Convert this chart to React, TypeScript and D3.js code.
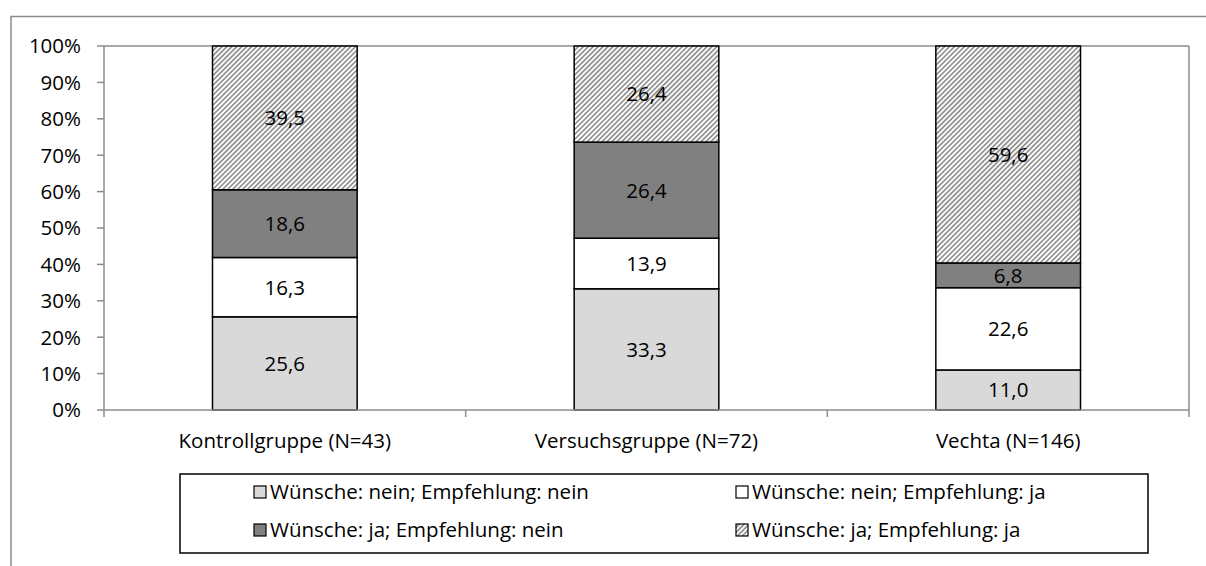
import React from "react";
import * as d3 from "d3";

const categories = ["Kontrollgruppe (N=43)", "Versuchsgruppe (N=72)", "Vechta (N=146)"];
const seriesNames = [
  "Wünsche: nein; Empfehlung: nein",
  "Wünsche: nein; Empfehlung: ja",
  "Wünsche: ja; Empfehlung: nein",
  "Wünsche: ja; Empfehlung: ja",
];
const neinNein = [25.6, 33.3, 11.0];
const neinJa = [16.3, 13.9, 22.6];
const jaNein = [18.6, 26.4, 6.8];
const jaJa = [39.5, 26.4, 59.6];
const yTicks = [0, 10, 20, 30, 40, 50, 60, 70, 80, 90, 100];

const W = 1206;
const H = 566;
const plot = { left: 104, right: 1189, top: 46, bottom: 410 };
const font = "'Open Sans', sans-serif";
const FS = 20.5;
const fills = ["#d9d9d9", "#ffffff", "#808080", "url(#hatch)"];

export default function App() {
  const series = [neinNein, neinJa, jaNein, jaJa];
  const x = d3.scaleBand<string>().domain(categories).range([plot.left, plot.right]).padding(0);
  const y = d3.scaleLinear().domain([0, 100]).range([plot.bottom, plot.top]);
  const barW = x.bandwidth() * 0.4;

  const table = categories.map((c, i) => {
    const row: any = { cat: c };
    series.forEach((s, k) => (row["s" + k] = s[i]));
    return row;
  });
  const stack = d3.stack<any>().keys(["s0", "s1", "s2", "s3"])(table);

  const legendItems = [
    { k: 0, x: 254, y: 492 },
    { k: 1, x: 736, y: 492 },
    { k: 2, x: 254, y: 530 },
    { k: 3, x: 736, y: 530 },
  ];

  return (
    <svg width={W} height={H} style={{ position: "absolute", left: 0, top: 0, background: "#fff" }} fontFamily={font}>
      <defs>
        <pattern id="hatch" patternUnits="userSpaceOnUse" width="3.5" height="3.5" patternTransform="rotate(45)">
          <rect width="3.5" height="3.5" fill="#ffffff" />
          <line x1="0.9" y1="0" x2="0.9" y2="3.5" stroke="#8a8a8a" strokeWidth="1.6" />
        </pattern>
      </defs>
      <rect x={0} y={0} width={W} height={H} fill="#fff" />
      {/* outer chart frame */}
      <rect x={11} y={16.5} width={W + 20} height={H + 20} fill="none" stroke="#8c8c8c" strokeWidth={1.5} />
      {/* plot area border top/right */}
      <line x1={plot.left} x2={plot.right} y1={plot.top} y2={plot.top} stroke="#8c8c8c" strokeWidth={1.5} />
      <line x1={plot.right} x2={plot.right} y1={plot.top} y2={plot.bottom} stroke="#8c8c8c" strokeWidth={1.5} />

      {/* bars */}
      {stack.map((layer, k) => (
        <g key={k}>
          {layer.map((d, i) => {
            const cx = (x(categories[i]) as number) + x.bandwidth() / 2;
            const y0 = y(d[0]);
            const y1 = y(d[1]);
            return (
              <g key={i}>
                <rect x={cx - barW / 2} y={y1} width={barW} height={y0 - y1} fill={fills[k]} stroke="#000" strokeWidth={1.5} />
                <text x={cx} y={(y0 + y1) / 2} dy="0.36em" textAnchor="middle" fontSize={FS} fill="#000">
                  {series[k][i].toFixed(1).replace(".", ",")}
                </text>
              </g>
            );
          })}
        </g>
      ))}

      {/* y axis */}
      <line x1={plot.left} x2={plot.left} y1={plot.top} y2={plot.bottom} stroke="#8c8c8c" strokeWidth={1.5} />
      {yTicks.map((t) => (
        <g key={t}>
          <line x1={plot.left - 7} x2={plot.left} y1={y(t)} y2={y(t)} stroke="#8c8c8c" strokeWidth={1.5} />
          <text x={81} y={y(t)} dy="0.36em" textAnchor="end" fontSize={FS} fill="#000">
            {t}%
          </text>
        </g>
      ))}

      {/* x axis */}
      <line x1={plot.left} x2={plot.right} y1={plot.bottom} y2={plot.bottom} stroke="#8c8c8c" strokeWidth={1.5} />
      {[...categories.map((c) => x(c) as number), plot.right].map((px, i) => (
        <line key={i} x1={px} x2={px} y1={plot.bottom} y2={plot.bottom + 7} stroke="#8c8c8c" strokeWidth={1.5} />
      ))}
      {categories.map((c) => (
        <text key={c} x={(x(c) as number) + x.bandwidth() / 2} y={441} dy="0.36em" textAnchor="middle" fontSize={FS} fill="#000">
          {c}
        </text>
      ))}

      {/* legend */}
      <rect x={180} y={474} width={968} height={79} fill="#fff" stroke="#000" strokeWidth={1.5} />
      {legendItems.map((it) => (
        <g key={it.k}>
          <rect x={it.x} y={it.y - 6} width={12} height={12} fill={fills[it.k]} stroke="#000" strokeWidth={1.2} />
          <text x={it.x + 16} y={it.y} dy="0.36em" fontSize={FS} fill="#000">
            {seriesNames[it.k]}
          </text>
        </g>
      ))}
    </svg>
  );
}
